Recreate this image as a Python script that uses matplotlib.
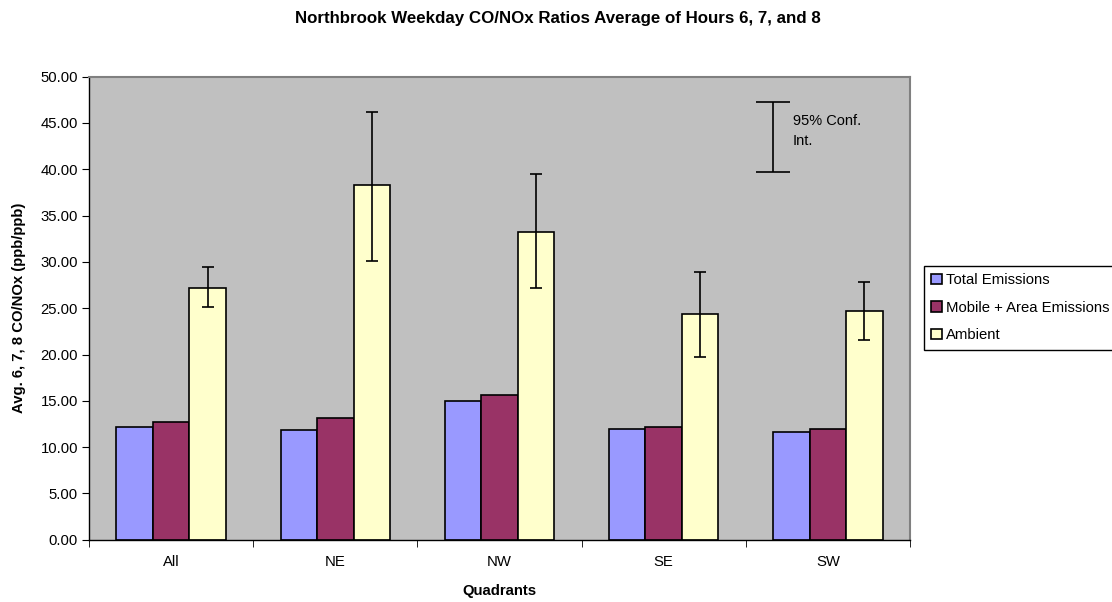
import matplotlib
matplotlib.use("Agg")
import matplotlib.pyplot as plt
import numpy as np

categories = ["All", "NE", "NW", "SE", "SW"]
total_emissions = [12.2, 11.9, 15.0, 12.0, 11.6]
mobile_area = [12.7, 13.1, 15.6, 12.2, 12.0]
ambient = [27.15, 38.3, 33.25, 24.4, 24.7]
ambient_hi = [29.4, 46.2, 39.5, 28.9, 27.8]
ambient_lo = [25.1, 30.1, 27.15, 19.7, 21.6]
series_names = ["Total Emissions", "Mobile + Area Emissions", "Ambient"]
yticks = [0, 5, 10, 15, 20, 25, 30, 35, 40, 45, 50]

plt.rcParams['font.family'] = ['Liberation Sans', 'DejaVu Sans']

fig = plt.figure(figsize=(11.12, 6.02), dpi=100)
ax = fig.add_axes([89/1112, 1 - 539.7/602, (910-89)/1112, (539.7-76.7)/602])
ax.set_facecolor("#C0C0C0")

x = np.arange(len(categories))
w = 1/4.5
colors = ["#9999FF", "#993366", "#FFFFCC"]
for i, (vals, c, name) in enumerate(zip([total_emissions, mobile_area, ambient], colors, series_names)):
    ax.bar(x + (i - 1) * w, vals, width=w, color=c, edgecolor="black", linewidth=1.2, label=name, zorder=2)

amb = np.array(ambient)
yerr = np.vstack([amb - np.array(ambient_lo), np.array(ambient_hi) - amb])
ax.errorbar(x + w, amb, yerr=yerr, fmt="none", ecolor="black", elinewidth=1.2, capsize=4.2, capthick=1.2, zorder=3)

# Confidence interval key
ax.errorbar([3.664], [43.52], yerr=[[3.78], [3.78]], fmt="none", ecolor="black", elinewidth=1.2, capsize=12.5, capthick=1.2, zorder=3)
ax.text(3.787, 46.0, "95% Conf.\nInt.", fontsize=10.5, va="top", ha="left", linespacing=1.6)

ax.set_xlim(-0.5, len(categories) - 0.5)
ax.set_ylim(0, 50)
ax.set_yticks(yticks)
ax.set_yticklabels([f"{v:.2f}" for v in yticks], fontsize=10.7)
ax.set_xticks(x)
ax.set_xticklabels(categories, fontsize=10.7)
ax.set_xticks(np.arange(-0.5, len(categories)), minor=True)
ax.tick_params(axis="x", which="major", length=0, pad=11)
ax.tick_params(axis="x", which="minor", length=5, direction="out")
ax.tick_params(axis="y", length=5, direction="out", pad=3)

for s in ["top", "right"]:
    ax.spines[s].set_color("#808080")
    ax.spines[s].set_linewidth(1.5)
for s in ["left", "bottom"]:
    ax.spines[s].set_color("black")
    ax.spines[s].set_linewidth(1.0)

ax.set_ylabel("Avg. 6, 7, 8 CO/NOx (ppb/ppb)", fontsize=10.7, fontweight="bold", labelpad=10)
ax.set_xlabel("Quadrants", fontsize=10.7, fontweight="bold", labelpad=11)
fig.text(558/1112, 1 - 18/602, "Northbrook Weekday CO/NOx Ratios Average of Hours 6, 7, and 8",
         ha="center", va="center", fontsize=12.2, fontweight="bold")

leg = fig.legend(loc="upper left", bbox_to_anchor=(924/1112, 1 - 266/602), fontsize=10.7,
                 frameon=True, fancybox=False, edgecolor="black", framealpha=1,
                 handlelength=0.7, handleheight=0.7, handletextpad=0.3, borderpad=0.5,
                 labelspacing=0.9, borderaxespad=0)
leg.get_frame().set_linewidth(1.0)

fig.savefig("out.png", dpi=100)
